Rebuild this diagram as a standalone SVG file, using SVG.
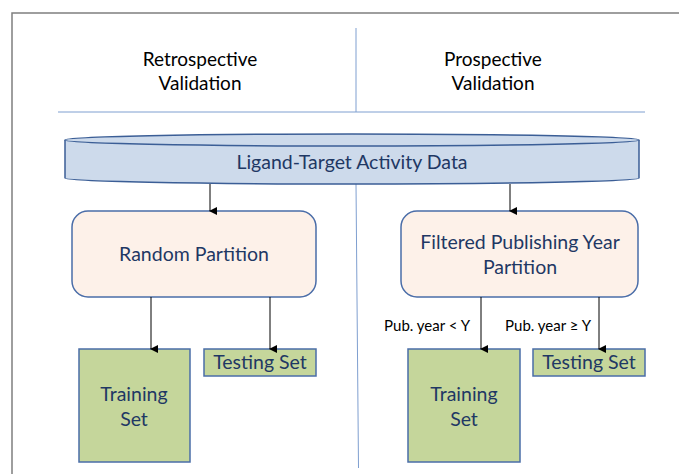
<svg xmlns="http://www.w3.org/2000/svg" width="679" height="474" viewBox="0 0 679 474">
<defs>
<marker id="ah" markerWidth="8" markerHeight="8" refX="4" refY="7" orient="auto-start-reverse" markerUnits="userSpaceOnUse" viewBox="0 0 8 8">
<path d="M0,0 L8,0 L4,8 Z" fill="#000"/>
</marker>
<style>
.t{font-family:Lato,"Open Sans","Liberation Sans",sans-serif;text-anchor:middle;}
.hd{font-size:19px;fill:#000;}
.nv{font-size:19.5px;fill:#1f3864;}
.lb{font-size:15px;fill:#000;font-family:Lato,"Open Sans","Liberation Sans",sans-serif;text-anchor:end;}
.peach{fill:#fdf1e9;stroke:#4a6da8;stroke-width:1.5;}
.green{fill:#c5d69b;stroke:#4a6da8;stroke-width:1.5;}
.cn{stroke:#000;stroke-width:1;fill:none;marker-end:url(#ah);}
.div{stroke:#7f9fd0;stroke-width:1;fill:none;}
</style>
</defs>
<rect x="0" y="0" width="679" height="474" fill="#fff"/>
<path d="M12,480 L12,13 L690,13" fill="none" stroke="#7f7f7f" stroke-width="1.5"/>
<g id="dividers">
<line class="div" x1="356" y1="28" x2="356" y2="112"/>
<line class="div" x1="58" y1="112" x2="645" y2="112"/>
<line class="div" x1="356" y1="184" x2="358.5" y2="468"/>
</g>
<g id="headers">
<text class="t hd" x="200" y="66">Retrospective</text>
<text class="t hd" x="200" y="90">Validation</text>
<text class="t hd" x="493" y="66">Prospective</text>
<text class="t hd" x="493" y="90">Validation</text>
</g>
<g id="data">
<path d="M65,140 L65,178 A287,6 0 0 0 639,178 L639,140" fill="#cddaeb" stroke="#3b5e96" stroke-width="1.5"/>
<ellipse cx="352" cy="140" rx="287" ry="6" fill="#cddaeb" stroke="#3b5e96" stroke-width="1.5"/>
<text class="t nv" x="352" y="169">Ligand-Target Activity Data</text>
</g>
<g id="random">
<rect class="peach" x="72" y="211" width="244" height="86" rx="16"/>
<text class="t nv" x="194" y="261">Random Partition</text>
</g>
<g id="filtered">
<rect class="peach" x="401" y="211" width="237" height="86" rx="16"/>
<text class="t nv" x="520" y="249">Filtered Publishing Year</text>
<text class="t nv" x="520" y="274">Partition</text>
</g>
<g id="train-left">
<rect class="green" x="79" y="349" width="111" height="113"/>
<text class="t nv" x="134" y="401">Training</text>
<text class="t nv" x="134" y="426">Set</text>
</g>
<g id="test-left">
<rect class="green" x="204" y="349" width="112" height="27"/>
<text class="t nv" x="260" y="369">Testing Set</text>
</g>
<g id="train-right">
<rect class="green" x="408" y="349" width="112" height="113"/>
<text class="t nv" x="464" y="401">Training</text>
<text class="t nv" x="464" y="426">Set</text>
</g>
<g id="test-right">
<rect class="green" x="533" y="349" width="112" height="27"/>
<text class="t nv" x="589" y="369">Testing Set</text>
</g>
<g id="connectors">
<line class="cn" x1="210" y1="184" x2="210" y2="211"/>
<line class="cn" x1="510" y1="184" x2="510" y2="211"/>
<line class="cn" x1="151" y1="297" x2="151" y2="349"/>
<line class="cn" x1="270" y1="297" x2="270" y2="349"/>
<line class="cn" x1="481" y1="297" x2="481" y2="349"/>
<line class="cn" x1="599" y1="297" x2="599" y2="349"/>
<text class="lb" x="470" y="331">Pub. year &lt; Y</text>
<text class="lb" x="591" y="331">Pub. year ≥ Y</text>
</g>
</svg>
